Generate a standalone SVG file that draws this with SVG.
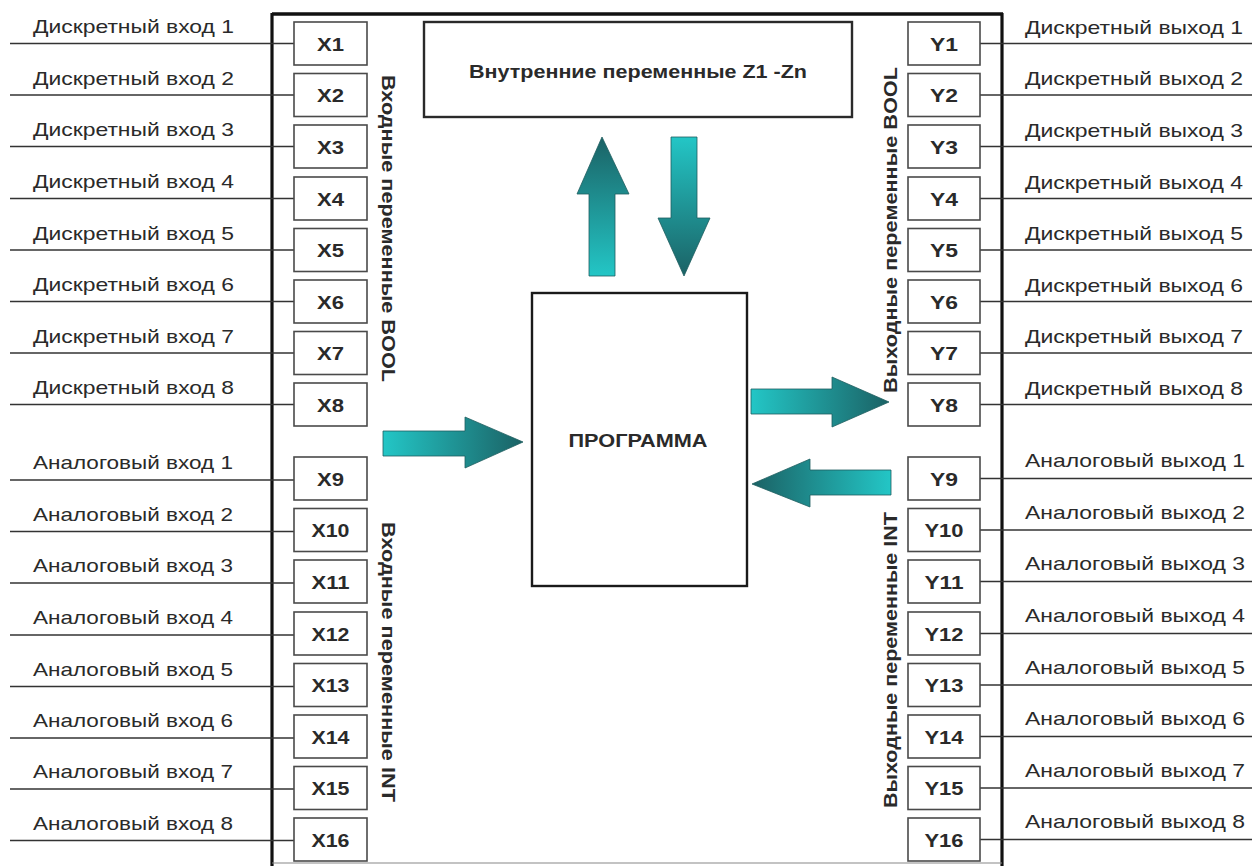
<svg xmlns="http://www.w3.org/2000/svg" width="1252" height="866" viewBox="0 0 1252 866">
<style>
.lbl{font-family:"Liberation Sans",Arial,sans-serif;font-size:18.5px;fill:#2a2a2a}
.bx{fill:#fff;stroke:#4a4a4a;stroke-width:1.6}
.bt{font-family:"Liberation Sans",Arial,sans-serif;font-size:18px;font-weight:bold;fill:#2a2a2a;text-anchor:middle}
.ln{stroke:#333;stroke-width:1.4}
.vt{font-family:"Liberation Sans",Arial,sans-serif;font-size:18px;font-weight:bold;fill:#2a2a2a;text-anchor:middle}
.arr{stroke:#1f5e60;stroke-width:0.8}
</style>
<defs>
<linearGradient id="gUp" x1="0" y1="1" x2="0" y2="0"><stop offset="0" stop-color="#23c6c6"/><stop offset="1" stop-color="#1b6265"/></linearGradient>
<linearGradient id="gDown" x1="0" y1="0" x2="0" y2="1"><stop offset="0" stop-color="#23c6c6"/><stop offset="1" stop-color="#1b6265"/></linearGradient>
<linearGradient id="gRight" x1="0" y1="0" x2="1" y2="0"><stop offset="0" stop-color="#23c6c6"/><stop offset="1" stop-color="#1b6265"/></linearGradient>
<linearGradient id="gLeft" x1="1" y1="0" x2="0" y2="0"><stop offset="0" stop-color="#23c6c6"/><stop offset="1" stop-color="#1b6265"/></linearGradient>
</defs>
<rect width="1252" height="866" fill="#fff"/>

<g id="frame">
<line x1="272" y1="14" x2="1003" y2="14" stroke="#111" stroke-width="3.4"/>
<line x1="272" y1="13" x2="272" y2="866" stroke="#111" stroke-width="3.2"/>
<line x1="1002" y1="13" x2="1002" y2="866" stroke="#111" stroke-width="3.2"/>
<line x1="272" y1="863" x2="1002" y2="863" stroke="#888" stroke-width="1.2"/>
</g>

<g id="connectors">
<line class="ln" x1="10" y1="43.5" x2="294" y2="43.5"/>
<line class="ln" x1="10" y1="95" x2="294" y2="95"/>
<line class="ln" x1="10" y1="146.5" x2="294" y2="146.5"/>
<line class="ln" x1="10" y1="198.5" x2="294" y2="198.5"/>
<line class="ln" x1="10" y1="250" x2="294" y2="250"/>
<line class="ln" x1="10" y1="301.5" x2="294" y2="301.5"/>
<line class="ln" x1="10" y1="353" x2="294" y2="353"/>
<line class="ln" x1="10" y1="404.5" x2="294" y2="404.5"/>
<line class="ln" x1="10" y1="480" x2="294" y2="480"/>
<line class="ln" x1="10" y1="531.5" x2="294" y2="531.5"/>
<line class="ln" x1="10" y1="583" x2="294" y2="583"/>
<line class="ln" x1="10" y1="635" x2="294" y2="635"/>
<line class="ln" x1="10" y1="686.5" x2="294" y2="686.5"/>
<line class="ln" x1="10" y1="738" x2="294" y2="738"/>
<line class="ln" x1="10" y1="789" x2="294" y2="789"/>
<line class="ln" x1="10" y1="840.5" x2="294" y2="840.5"/>

<line class="ln" x1="980" y1="43.5" x2="1252" y2="43.5"/>
<line class="ln" x1="980" y1="95" x2="1252" y2="95"/>
<line class="ln" x1="980" y1="146.5" x2="1252" y2="146.5"/>
<line class="ln" x1="980" y1="198.5" x2="1252" y2="198.5"/>
<line class="ln" x1="980" y1="250" x2="1252" y2="250"/>
<line class="ln" x1="980" y1="301.5" x2="1252" y2="301.5"/>
<line class="ln" x1="980" y1="353" x2="1252" y2="353"/>
<line class="ln" x1="980" y1="404.5" x2="1252" y2="404.5"/>
<line class="ln" x1="980" y1="478.5" x2="1252" y2="478.5"/>
<line class="ln" x1="980" y1="530" x2="1252" y2="530"/>
<line class="ln" x1="980" y1="581.5" x2="1252" y2="581.5"/>
<line class="ln" x1="980" y1="633.5" x2="1252" y2="633.5"/>
<line class="ln" x1="980" y1="685" x2="1252" y2="685"/>
<line class="ln" x1="980" y1="736.5" x2="1252" y2="736.5"/>
<line class="ln" x1="980" y1="788" x2="1252" y2="788"/>
<line class="ln" x1="980" y1="839.5" x2="1252" y2="839.5"/>

<path class="arr" fill="url(#gUp)" d="M589,276 L615,276 L615,194 L629,194 L602,137 L577,194 L589,194 Z"/>
<path class="arr" fill="url(#gDown)" d="M671,137 L697,137 L697,218 L710,218 L684,276 L658,218 L671,218 Z"/>
<path class="arr" fill="url(#gRight)" d="M383,431 L465,431 L465,417 L523,442 L465,468 L465,456 L383,456 Z"/>
<path class="arr" fill="url(#gRight)" d="M751,389 L832,389 L832,377 L889,402 L832,427 L832,414 L751,414 Z"/>
<path class="arr" fill="url(#gLeft)" d="M891,470 L810,470 L810,459 L752,484 L810,507 L810,495 L891,495 Z"/>
</g>

<g id="input-labels">
<text class="lbl" x="33" y="33" textLength="201" lengthAdjust="spacingAndGlyphs">Дискретный вход 1</text>
<text class="lbl" x="33" y="84.5" textLength="201" lengthAdjust="spacingAndGlyphs">Дискретный вход 2</text>
<text class="lbl" x="33" y="136" textLength="201" lengthAdjust="spacingAndGlyphs">Дискретный вход 3</text>
<text class="lbl" x="33" y="188" textLength="201" lengthAdjust="spacingAndGlyphs">Дискретный вход 4</text>
<text class="lbl" x="33" y="239.5" textLength="201" lengthAdjust="spacingAndGlyphs">Дискретный вход 5</text>
<text class="lbl" x="33" y="291" textLength="201" lengthAdjust="spacingAndGlyphs">Дискретный вход 6</text>
<text class="lbl" x="33" y="342.5" textLength="201" lengthAdjust="spacingAndGlyphs">Дискретный вход 7</text>
<text class="lbl" x="33" y="394" textLength="201" lengthAdjust="spacingAndGlyphs">Дискретный вход 8</text>
<text class="lbl" x="33" y="469" textLength="200" lengthAdjust="spacingAndGlyphs">Аналоговый вход 1</text>
<text class="lbl" x="33" y="520.5" textLength="200" lengthAdjust="spacingAndGlyphs">Аналоговый вход 2</text>
<text class="lbl" x="33" y="572" textLength="200" lengthAdjust="spacingAndGlyphs">Аналоговый вход 3</text>
<text class="lbl" x="33" y="624" textLength="200" lengthAdjust="spacingAndGlyphs">Аналоговый вход 4</text>
<text class="lbl" x="33" y="675.5" textLength="200" lengthAdjust="spacingAndGlyphs">Аналоговый вход 5</text>
<text class="lbl" x="33" y="727" textLength="200" lengthAdjust="spacingAndGlyphs">Аналоговый вход 6</text>
<text class="lbl" x="33" y="778" textLength="200" lengthAdjust="spacingAndGlyphs">Аналоговый вход 7</text>
<text class="lbl" x="33" y="829.5" textLength="200" lengthAdjust="spacingAndGlyphs">Аналоговый вход 8</text>
</g>

<g id="output-labels">
<text class="lbl" x="1025" y="33.5" textLength="218" lengthAdjust="spacingAndGlyphs">Дискретный выход 1</text>
<text class="lbl" x="1025" y="85" textLength="218" lengthAdjust="spacingAndGlyphs">Дискретный выход 2</text>
<text class="lbl" x="1025" y="136.5" textLength="218" lengthAdjust="spacingAndGlyphs">Дискретный выход 3</text>
<text class="lbl" x="1025" y="188.5" textLength="218" lengthAdjust="spacingAndGlyphs">Дискретный выход 4</text>
<text class="lbl" x="1025" y="240" textLength="218" lengthAdjust="spacingAndGlyphs">Дискретный выход 5</text>
<text class="lbl" x="1025" y="291.5" textLength="218" lengthAdjust="spacingAndGlyphs">Дискретный выход 6</text>
<text class="lbl" x="1025" y="343" textLength="218" lengthAdjust="spacingAndGlyphs">Дискретный выход 7</text>
<text class="lbl" x="1025" y="394.5" textLength="218" lengthAdjust="spacingAndGlyphs">Дискретный выход 8</text>
<text class="lbl" x="1025" y="467" textLength="220" lengthAdjust="spacingAndGlyphs">Аналоговый выход 1</text>
<text class="lbl" x="1025" y="518.5" textLength="220" lengthAdjust="spacingAndGlyphs">Аналоговый выход 2</text>
<text class="lbl" x="1025" y="570" textLength="220" lengthAdjust="spacingAndGlyphs">Аналоговый выход 3</text>
<text class="lbl" x="1025" y="622" textLength="220" lengthAdjust="spacingAndGlyphs">Аналоговый выход 4</text>
<text class="lbl" x="1025" y="673.5" textLength="220" lengthAdjust="spacingAndGlyphs">Аналоговый выход 5</text>
<text class="lbl" x="1025" y="725" textLength="220" lengthAdjust="spacingAndGlyphs">Аналоговый выход 6</text>
<text class="lbl" x="1025" y="776.5" textLength="220" lengthAdjust="spacingAndGlyphs">Аналоговый выход 7</text>
<text class="lbl" x="1025" y="828" textLength="220" lengthAdjust="spacingAndGlyphs">Аналоговый выход 8</text>
</g>

<g id="X1"><rect class="bx" x="294" y="22" width="73" height="43"/><text class="bt" x="330.5" y="50.5" textLength="27" lengthAdjust="spacingAndGlyphs">X1</text></g>
<g id="X2"><rect class="bx" x="294" y="73.5" width="73" height="43"/><text class="bt" x="330.5" y="102" textLength="27" lengthAdjust="spacingAndGlyphs">X2</text></g>
<g id="X3"><rect class="bx" x="294" y="125" width="73" height="43"/><text class="bt" x="330.5" y="153.5" textLength="27" lengthAdjust="spacingAndGlyphs">X3</text></g>
<g id="X4"><rect class="bx" x="294" y="177" width="73" height="43"/><text class="bt" x="330.5" y="205.5" textLength="27" lengthAdjust="spacingAndGlyphs">X4</text></g>
<g id="X5"><rect class="bx" x="294" y="228.5" width="73" height="43"/><text class="bt" x="330.5" y="257" textLength="27" lengthAdjust="spacingAndGlyphs">X5</text></g>
<g id="X6"><rect class="bx" x="294" y="280" width="73" height="43"/><text class="bt" x="330.5" y="308.5" textLength="27" lengthAdjust="spacingAndGlyphs">X6</text></g>
<g id="X7"><rect class="bx" x="294" y="331.5" width="73" height="43"/><text class="bt" x="330.5" y="360" textLength="27" lengthAdjust="spacingAndGlyphs">X7</text></g>
<g id="X8"><rect class="bx" x="294" y="383" width="73" height="43"/><text class="bt" x="330.5" y="411.5" textLength="27" lengthAdjust="spacingAndGlyphs">X8</text></g>
<g id="X9"><rect class="bx" x="294" y="457" width="73" height="43"/><text class="bt" x="330.5" y="485.5" textLength="27" lengthAdjust="spacingAndGlyphs">X9</text></g>
<g id="X10"><rect class="bx" x="294" y="508.5" width="73" height="43"/><text class="bt" x="330.5" y="537" textLength="38" lengthAdjust="spacingAndGlyphs">X10</text></g>
<g id="X11"><rect class="bx" x="294" y="560" width="73" height="43"/><text class="bt" x="330.5" y="588.5" textLength="38" lengthAdjust="spacingAndGlyphs">X11</text></g>
<g id="X12"><rect class="bx" x="294" y="612" width="73" height="43"/><text class="bt" x="330.5" y="640.5" textLength="38" lengthAdjust="spacingAndGlyphs">X12</text></g>
<g id="X13"><rect class="bx" x="294" y="663.5" width="73" height="43"/><text class="bt" x="330.5" y="692" textLength="38" lengthAdjust="spacingAndGlyphs">X13</text></g>
<g id="X14"><rect class="bx" x="294" y="715" width="73" height="43"/><text class="bt" x="330.5" y="743.5" textLength="38" lengthAdjust="spacingAndGlyphs">X14</text></g>
<g id="X15"><rect class="bx" x="294" y="766.5" width="73" height="43"/><text class="bt" x="330.5" y="795" textLength="38" lengthAdjust="spacingAndGlyphs">X15</text></g>
<g id="X16"><rect class="bx" x="294" y="818" width="73" height="43"/><text class="bt" x="330.5" y="846.5" textLength="38" lengthAdjust="spacingAndGlyphs">X16</text></g>

<g id="Y1"><rect class="bx" x="908" y="22" width="72" height="43"/><text class="bt" x="944" y="50.5" textLength="28" lengthAdjust="spacingAndGlyphs">Y1</text></g>
<g id="Y2"><rect class="bx" x="908" y="73.5" width="72" height="43"/><text class="bt" x="944" y="102" textLength="28" lengthAdjust="spacingAndGlyphs">Y2</text></g>
<g id="Y3"><rect class="bx" x="908" y="125" width="72" height="43"/><text class="bt" x="944" y="153.5" textLength="28" lengthAdjust="spacingAndGlyphs">Y3</text></g>
<g id="Y4"><rect class="bx" x="908" y="177" width="72" height="43"/><text class="bt" x="944" y="205.5" textLength="28" lengthAdjust="spacingAndGlyphs">Y4</text></g>
<g id="Y5"><rect class="bx" x="908" y="228.5" width="72" height="43"/><text class="bt" x="944" y="257" textLength="28" lengthAdjust="spacingAndGlyphs">Y5</text></g>
<g id="Y6"><rect class="bx" x="908" y="280" width="72" height="43"/><text class="bt" x="944" y="308.5" textLength="28" lengthAdjust="spacingAndGlyphs">Y6</text></g>
<g id="Y7"><rect class="bx" x="908" y="331.5" width="72" height="43"/><text class="bt" x="944" y="360" textLength="28" lengthAdjust="spacingAndGlyphs">Y7</text></g>
<g id="Y8"><rect class="bx" x="908" y="383" width="72" height="43"/><text class="bt" x="944" y="411.5" textLength="28" lengthAdjust="spacingAndGlyphs">Y8</text></g>
<g id="Y9"><rect class="bx" x="908" y="457" width="72" height="43"/><text class="bt" x="944" y="485.5" textLength="28" lengthAdjust="spacingAndGlyphs">Y9</text></g>
<g id="Y10"><rect class="bx" x="908" y="508.5" width="72" height="43"/><text class="bt" x="944" y="537" textLength="39" lengthAdjust="spacingAndGlyphs">Y10</text></g>
<g id="Y11"><rect class="bx" x="908" y="560" width="72" height="43"/><text class="bt" x="944" y="588.5" textLength="39" lengthAdjust="spacingAndGlyphs">Y11</text></g>
<g id="Y12"><rect class="bx" x="908" y="612" width="72" height="43"/><text class="bt" x="944" y="640.5" textLength="39" lengthAdjust="spacingAndGlyphs">Y12</text></g>
<g id="Y13"><rect class="bx" x="908" y="663.5" width="72" height="43"/><text class="bt" x="944" y="692" textLength="39" lengthAdjust="spacingAndGlyphs">Y13</text></g>
<g id="Y14"><rect class="bx" x="908" y="715" width="72" height="43"/><text class="bt" x="944" y="743.5" textLength="39" lengthAdjust="spacingAndGlyphs">Y14</text></g>
<g id="Y15"><rect class="bx" x="908" y="766.5" width="72" height="43"/><text class="bt" x="944" y="795" textLength="39" lengthAdjust="spacingAndGlyphs">Y15</text></g>
<g id="Y16"><rect class="bx" x="908" y="818" width="72" height="43"/><text class="bt" x="944" y="846.5" textLength="39" lengthAdjust="spacingAndGlyphs">Y16</text></g>

<g id="group-labels">
<text class="vt" transform="translate(382,228.5) rotate(90)" x="0" y="0" textLength="307" lengthAdjust="spacingAndGlyphs">Входные переменные BOOL</text>
<text class="vt" transform="translate(382,662) rotate(90)" x="0" y="0" textLength="280" lengthAdjust="spacingAndGlyphs">Входные переменные INT</text>
<text class="vt" transform="translate(897,230) rotate(-90)" x="0" y="0" textLength="326" lengthAdjust="spacingAndGlyphs">Выходные переменные BOOL</text>
<text class="vt" transform="translate(897,660) rotate(-90)" x="0" y="0" textLength="296" lengthAdjust="spacingAndGlyphs">Выходные переменные INT</text>
</g>

<g id="internal-vars">
<rect x="424" y="22" width="428" height="95" fill="#fff" stroke="#2a2a2a" stroke-width="2.4"/>
<text class="bt" x="638" y="77.5" font-size="19.5" textLength="338" lengthAdjust="spacingAndGlyphs">Внутренние переменные Z1 -Zn</text>
</g>

<g id="program">
<rect x="532" y="293" width="215" height="293" fill="#fff" stroke="#1a1a1a" stroke-width="2.4"/>
<text class="bt" x="638" y="447" font-size="18.5" textLength="139" lengthAdjust="spacingAndGlyphs">ПРОГРАММА</text>
</g>
</svg>
